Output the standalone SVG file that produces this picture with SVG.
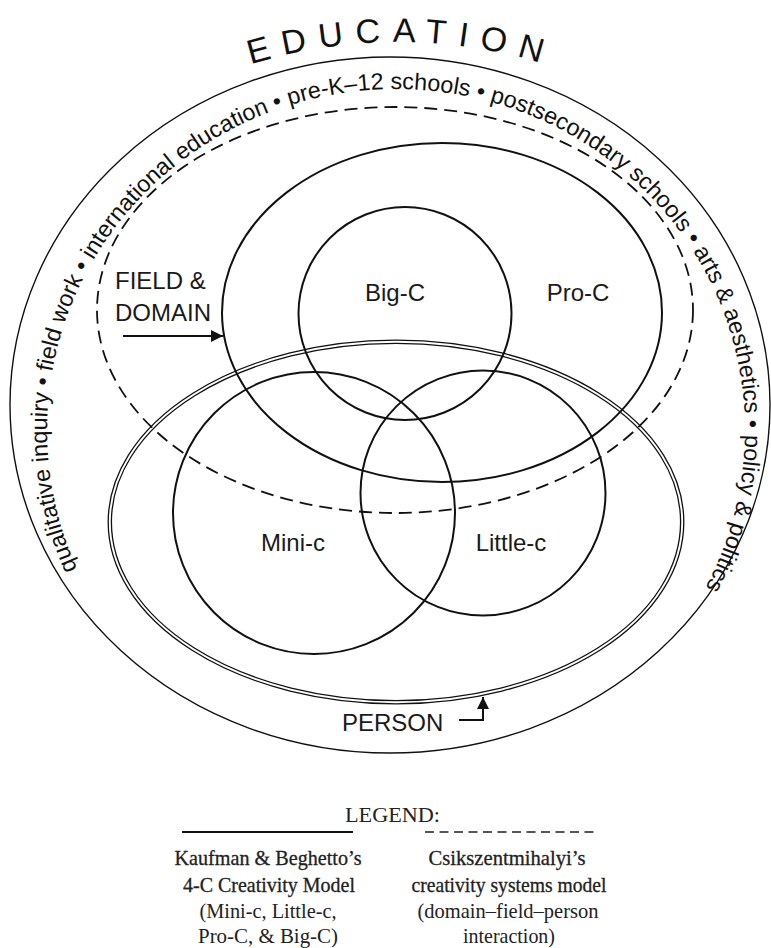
<svg xmlns="http://www.w3.org/2000/svg" width="771" height="948" viewBox="0 0 771 948">
<style>
.ln{fill:none;stroke:#111;stroke-width:2}
.thin{fill:none;stroke:#111;stroke-width:1.4}
.dash{fill:none;stroke:#111;stroke-width:1.8;stroke-dasharray:13 7}
.lbl{font-family:"Liberation Sans",Arial,sans-serif;font-size:24px;fill:#1a1a1a}
.band{font-family:"Liberation Sans",Arial,sans-serif;font-size:23.3px;fill:#111}
.edu{font-family:"Liberation Sans",Arial,sans-serif;font-size:34px;fill:#111;letter-spacing:12px}
.lg{font-family:"Liberation Serif","Times New Roman",serif;font-size:21px;fill:#222;text-anchor:middle}
.lgb{stroke:#222;stroke-width:0.3}
</style>
<defs>
<path id="eduArc" d="M 148 109.5 A 497 497 0 0 1 648 109.5"/>
<path id="bandArc" d="M 110.1 625.6 A 349 341 0 1 1 681.9 625.6"/>
<marker id="ah" viewBox="0 0 12 12" refX="12" refY="6" markerWidth="13" markerHeight="12" markerUnits="userSpaceOnUse" orient="auto">
<path d="M0,0 L12,6 L0,12 z" fill="#111"/>
</marker>
</defs>
<rect width="771" height="948" fill="#fff"/>

<g id="education">
<ellipse class="thin" cx="390" cy="405" rx="380" ry="348"/>
<text class="edu"><textPath href="#eduArc" startOffset="50.6%" text-anchor="middle">EDUCATION</textPath></text>
<text class="band"><textPath href="#bandArc" startOffset="50.7%" text-anchor="middle">qualitative inquiry • field work • international education • pre-K–12 schools • postsecondary schools • arts &amp; aesthetics • policy &amp; politics</textPath></text>
</g>

<g id="field-domain">
<ellipse class="dash" cx="395" cy="310" rx="298" ry="203"/>
<text class="lbl" x="115" y="289">FIELD &amp;</text>
<text class="lbl" x="115" y="321">DOMAIN</text>
</g>

<g id="pro-c">
<ellipse class="ln" cx="442" cy="312.5" rx="220" ry="169.5"/>
<text class="lbl" x="578" y="301" text-anchor="middle">Pro-C</text>
</g>

<g id="big-c">
<circle class="ln" cx="405" cy="313.5" r="106.5"/>
<text class="lbl" x="395" y="301" text-anchor="middle">Big-C</text>
</g>

<g id="mini-c">
<circle class="ln" cx="314" cy="513" r="141"/>
<text class="lbl" x="293" y="551" text-anchor="middle">Mini-c</text>
</g>

<g id="little-c">
<circle class="ln" cx="483" cy="493" r="122.5"/>
<text class="lbl" x="511" y="551" text-anchor="middle">Little-c</text>
</g>

<g id="person">
<ellipse fill="none" stroke="#111" stroke-width="1.3" cx="396" cy="522" rx="287.8" ry="181.8"/>
<ellipse fill="none" stroke="#111" stroke-width="1.3" cx="396" cy="522" rx="284.6" ry="178.6"/>
<text class="lbl" x="342" y="731">PERSON</text>
</g>

<g id="connectors">
<path d="M 123 336 H 223" fill="none" stroke="#111" stroke-width="2" marker-end="url(#ah)"/>
<path d="M 459 720 H 483 V 697" fill="none" stroke="#111" stroke-width="2" marker-end="url(#ah)"/>
</g>

<g id="legend">
<text class="lg" x="392.5" y="822" textLength="95" lengthAdjust="spacingAndGlyphs">LEGEND:</text>
<line x1="182" y1="832" x2="353" y2="832" stroke="#111" stroke-width="2"/>
<line x1="425" y1="832" x2="598" y2="832" stroke="#555" stroke-width="2" stroke-dasharray="9 5.5"/>
<text class="lg lgb" x="268" y="865" textLength="187" lengthAdjust="spacingAndGlyphs">Kaufman &amp; Beghetto’s</text>
<text class="lg lgb" x="269" y="892" textLength="172" lengthAdjust="spacingAndGlyphs">4-C Creativity Model</text>
<text class="lg" x="268" y="918" textLength="137" lengthAdjust="spacingAndGlyphs">(Mini-c, Little-c,</text>
<text class="lg" x="268" y="943" textLength="140" lengthAdjust="spacingAndGlyphs">Pro-C, &amp; Big-C)</text>
<text class="lg lgb" x="507" y="865" textLength="157" lengthAdjust="spacingAndGlyphs">Csikszentmihalyi’s</text>
<text class="lg lgb" x="509" y="892" textLength="195" lengthAdjust="spacingAndGlyphs">creativity systems model</text>
<text class="lg" x="508" y="918" textLength="181" lengthAdjust="spacingAndGlyphs">(domain–field–person</text>
<text class="lg" x="509" y="943" textLength="92" lengthAdjust="spacingAndGlyphs">interaction)</text>
</g>
</svg>
